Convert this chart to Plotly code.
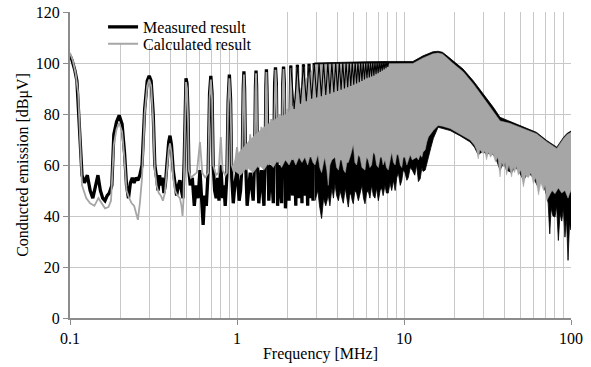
import plotly.graph_objects as go

# ---------------- Low-frequency part: individual harmonics (MHz, dBuV) ----------------
meas_f = [0.100, 0.103, 0.107, 0.110, 0.118, 0.122, 0.127, 0.132, 0.137, 0.142, 0.147, 0.152, 0.157,
          0.162, 0.167, 0.172, 0.178, 0.183, 0.190, 0.197, 0.205, 0.212, 0.218, 0.224, 0.230, 0.236,
          0.242, 0.248, 0.255, 0.262, 0.270, 0.280, 0.290, 0.298, 0.306, 0.315, 0.322, 0.330, 0.337,
          0.344, 0.350, 0.357, 0.365, 0.372, 0.380, 0.390, 0.397, 0.405, 0.415, 0.425, 0.435, 0.445,
          0.455, 0.465, 0.475, 0.483, 0.489, 0.495, 0.502, 0.509, 0.515, 0.525, 0.540, 0.555, 0.570,
          0.585, 0.600, 0.615, 0.627, 0.640, 0.655, 0.672, 0.685, 0.697, 0.709, 0.720, 0.735, 0.750,
          0.765, 0.780, 0.800, 0.820, 0.835, 0.850, 0.870, 0.885, 0.900, 0.915, 0.930, 0.950, 0.970,
          1.000, 1.030, 1.050, 1.075, 1.090, 1.100, 1.110, 1.125, 1.150, 1.200, 1.250, 1.275, 1.290,
          1.300, 1.310, 1.325, 1.350, 1.400, 1.450, 1.475, 1.490, 1.500, 1.510, 1.525, 1.550, 1.600,
          1.650, 1.680, 1.700, 1.720, 1.750, 1.800, 1.850, 1.880, 1.900, 1.920, 1.950, 2.000, 2.050,
          2.100, 2.150, 2.200, 2.250, 2.300, 2.350, 2.400, 2.450, 2.500, 2.550, 2.600, 2.650, 2.700,
          2.750, 2.800, 2.850, 2.900]
meas_db = [103.0, 101.0, 97.0, 93.0, 56.0, 53.0, 56.0, 50.0, 47.0, 52.0, 56.0, 50.0, 47.0,
           46.0, 48.0, 49.0, 52.0, 72.0, 77.0, 79.5, 76.0, 65.0, 52.0, 47.0, 53.0, 55.0,
           53.0, 55.0, 54.0, 56.0, 60.0, 82.0, 93.0, 95.0, 93.0, 80.0, 60.0, 55.0, 50.0,
           56.0, 52.0, 55.0, 49.0, 52.0, 60.0, 69.0, 71.5, 68.0, 58.0, 52.0, 48.0, 52.0,
           54.0, 50.0, 47.0, 62.0, 88.0, 94.0, 92.0, 80.0, 58.0, 52.0, 55.0, 44.0, 52.0,
           47.0, 58.0, 45.0, 36.5, 48.0, 44.0, 58.0, 88.0, 95.0, 88.0, 60.0, 50.0, 47.0,
           55.0, 46.0, 60.0, 47.0, 52.0, 44.0, 56.0, 85.0, 95.5, 86.0, 55.0, 45.0, 52.0,
           58.0, 46.0, 50.0, 62.0, 90.0, 96.7, 90.0, 62.0, 44.0, 57.0, 46.0, 62.0, 91.0,
           97.0, 91.0, 62.0, 45.0, 58.0, 44.0, 64.0, 91.0, 97.5, 91.0, 62.0, 46.0, 60.0,
           45.0, 92.0, 98.3, 92.0, 44.0, 60.0, 45.0, 92.0, 98.6, 92.0, 43.0, 62.0, 46.0,
           99.0, 48.0, 64.0, 44.0, 99.3, 47.0, 65.0, 45.0, 99.5, 48.0, 66.0, 44.0, 99.7,
           47.0, 67.0, 46.0, 100.0]

calc_f = [0.100, 0.104, 0.108, 0.112, 0.118, 0.125, 0.132, 0.140, 0.148, 0.155, 0.162, 0.170, 0.176,
          0.183, 0.190, 0.197, 0.205, 0.212, 0.218, 0.226, 0.234, 0.242, 0.250, 0.255, 0.262, 0.270,
          0.280, 0.290, 0.298, 0.306, 0.315, 0.322, 0.330, 0.340, 0.350, 0.360, 0.370, 0.380, 0.390,
          0.397, 0.405, 0.415, 0.425, 0.440, 0.455, 0.465, 0.472, 0.478, 0.483, 0.489, 0.495, 0.502,
          0.509, 0.515, 0.530, 0.550, 0.575, 0.600, 0.620, 0.645, 0.672, 0.685, 0.697, 0.709, 0.720,
          0.750, 0.775, 0.800, 0.820, 0.850, 0.870, 0.885, 0.900, 0.915, 0.930, 0.960, 1.000, 1.040,
          1.075, 1.090, 1.100, 1.110, 1.125, 1.150, 1.200, 1.250, 1.275, 1.290, 1.300, 1.310, 1.325,
          1.350, 1.400, 1.450, 1.475, 1.490, 1.500, 1.510, 1.525, 1.550, 1.600, 1.650, 1.680, 1.700,
          1.720, 1.750, 1.800, 1.850, 1.880, 1.900, 1.920, 1.950, 2.000, 2.050, 2.100, 2.150, 2.200,
          2.250, 2.300, 2.350, 2.400, 2.450, 2.500, 2.550, 2.600, 2.650, 2.700, 2.750, 2.800, 2.850,
          2.900]
calc_db = [104.0, 101.0, 96.0, 88.0, 52.0, 47.0, 45.0, 44.0, 47.0, 45.0, 43.0, 43.5, 46.0,
           68.0, 74.0, 76.5, 73.0, 62.0, 50.0, 47.0, 45.0, 44.0, 41.0, 38.5, 45.0, 55.0,
           80.0, 91.0, 93.5, 91.0, 77.0, 58.0, 52.0, 49.0, 48.0, 46.0, 49.0, 58.0, 66.0,
           68.5, 65.0, 55.0, 50.0, 48.0, 47.0, 44.0, 40.0, 46.0, 60.0, 86.0, 92.5, 90.0,
           78.0, 58.0, 55.0, 56.0, 57.0, 69.0, 57.0, 55.0, 57.0, 86.0, 93.5, 86.0, 60.0,
           56.0, 57.0, 71.0, 58.0, 56.0, 57.0, 84.0, 94.0, 84.0, 60.0, 57.0, 67.0, 58.0,
           62.0, 88.0, 95.5, 88.0, 62.0, 58.0, 72.0, 58.0, 62.0, 89.0, 96.0, 89.0, 62.0,
           59.0, 75.0, 59.0, 64.0, 89.0, 96.5, 89.0, 63.0, 60.0, 78.0, 60.0, 90.0, 97.3,
           90.0, 61.0, 80.0, 61.0, 90.0, 97.6, 90.0, 62.0, 82.0, 62.0, 98.0, 62.0, 83.0,
           62.0, 98.3, 63.0, 84.0, 62.0, 98.5, 63.0, 85.0, 62.0, 98.7, 63.0, 85.5, 62.0,
           99.0]

# ---------------- Dense part: envelopes of the harmonic band ----------------
meas_top_f = [2.9, 4.0, 6.0, 8.0, 10.0, 11.3, 13.0, 14.9, 16.0, 17.0, 18.1, 19.6, 22.6, 26.0, 30.0,
              34.3, 37.6, 43.3, 51.9, 62.1, 71.6, 82.2, 90.3, 95.0, 100.0]
meas_top = [100.0, 100.3, 100.5, 100.6, 100.5, 100.6, 102.8, 104.4, 104.6, 104.2, 102.8, 100.8, 97.6,
            93.0, 87.8, 82.6, 78.7, 77.1, 74.8, 72.8, 69.6, 67.0, 70.9, 72.5, 73.3]

meas_bot_f = [2.93, 3.05, 3.12, 3.21, 3.30, 3.40, 3.52, 3.60, 3.70, 3.78, 3.86, 3.95, 4.05, 4.14, 4.23,
              4.33, 4.45, 4.55, 4.64, 4.72, 4.80, 4.90, 4.97, 5.08, 5.20, 5.33, 5.45, 5.60, 5.72, 5.84,
              5.97, 6.10, 6.25, 6.40, 6.55, 6.70, 6.85, 7.02, 7.20, 7.35, 7.50, 7.69, 7.85, 8.05, 8.25,
              8.44, 8.65, 8.85, 9.05, 9.25, 9.50, 9.70, 9.90, 10.14, 10.4, 10.6, 10.9, 11.2, 11.6, 11.9,
              12.2, 12.5, 12.8, 13.0, 13.4, 13.7, 14.0, 14.5, 15.0, 16.0, 18.9, 21.6, 24.9, 26.4, 27.8,
              29.8, 31.2, 33.0, 35.3, 37.6, 39.6, 41.1, 44.1, 46.0, 48.4, 51.9, 55.5, 59.5, 63.9, 66.0,
              68.5, 71.6, 73.0, 74.6, 76.0, 78.0, 80.2, 82.0, 84.0, 86.0, 88.0, 90.0, 92.0, 94.0, 96.0,
              98.0, 100.0]
meas_bot = [46.0, 50.0, 44.0, 39.0, 47.0, 44.0, 48.0, 44.0, 51.0, 47.0, 52.6, 48.0, 46.0, 50.0, 48.0,
            45.0, 51.0, 47.0, 43.5, 48.0, 49.0, 46.0, 44.8, 50.0, 49.0, 46.0, 48.0, 52.0, 47.0, 44.8,
            49.0, 50.0, 47.0, 52.0, 48.0, 47.0, 51.0, 46.0, 50.0, 51.0, 48.0, 52.0, 49.0, 49.0, 53.0,
            50.0, 54.0, 50.0, 55.0, 57.0, 52.0, 54.0, 58.0, 57.0, 54.0, 55.0, 59.0, 58.0, 56.0, 60.0,
            53.5, 54.6, 59.0, 57.5, 58.0, 61.0, 63.0, 67.0, 70.5, 74.8, 73.5, 71.5, 69.0, 67.0, 64.0,
            65.5, 64.0, 65.0, 63.0, 58.0, 61.0, 58.0, 57.0, 59.0, 58.0, 54.0, 57.0, 55.0, 51.0, 54.0,
            52.0, 48.0, 45.0, 33.0, 43.0, 40.0, 39.6, 44.0, 30.4, 41.0, 38.0, 43.0, 31.7, 39.0, 22.6,
            37.0, 34.5]

calc_top_f = [0.95, 1.0, 1.2, 1.4, 1.6, 1.8, 2.0, 2.2, 2.4, 2.6, 2.8, 2.9, 4.0, 6.0, 8.0, 10.0,
              11.3, 13.0, 14.9, 16.0, 17.0, 18.1, 19.6, 22.6, 26.0, 30.0, 34.3, 37.6, 43.3, 51.9, 62.1,
              71.6, 82.2, 90.3, 95.0, 100.0]
calc_top = [60.0, 64.0, 70.0, 74.0, 77.0, 79.0, 80.0, 84.0, 90.0, 94.0, 97.0, 99.4, 99.6, 99.7,
            99.8, 99.7, 99.8, 102.0, 103.6, 103.9, 103.5, 102.0, 99.9, 96.6, 91.8, 86.2, 80.8, 77.3,
            76.3, 74.2, 72.3, 69.1, 66.5, 70.4, 72.0, 72.8]

calc_bot_f = [0.95, 1.05, 1.15, 1.25, 1.35, 1.45, 1.55, 1.65, 1.75, 1.85, 1.95, 2.05, 2.15, 2.25, 2.35,
              2.45, 2.55, 2.65, 2.75, 2.85, 2.93, 3.05, 3.13, 3.21, 3.35, 3.45, 3.52, 3.60, 3.70, 3.86,
              3.95, 4.05, 4.15, 4.23, 4.35, 4.45, 4.55, 4.64, 4.80, 4.97, 5.08, 5.20, 5.33, 5.45, 5.60,
              5.84, 5.97, 6.10, 6.25, 6.40, 6.55, 6.70, 6.85, 7.02, 7.20, 7.35, 7.50, 7.69, 7.85, 8.05,
              8.25, 8.44, 8.65, 8.85, 9.05, 9.25, 9.50, 9.70, 9.90, 10.14, 10.4, 10.6, 10.9, 11.2, 11.6,
              11.9, 12.2, 12.5, 12.8, 13.0, 13.4, 13.7, 14.0, 14.5, 15.0, 16.0, 17.0, 18.9, 21.6, 24.9,
              26.4, 27.2, 27.8, 28.5, 29.8, 30.5, 31.2, 32.0, 33.0, 34.0, 35.3, 36.5, 37.6, 38.5, 39.6,
              40.3, 41.1, 42.5, 44.1, 45.0, 46.0, 47.0, 48.4, 50.0, 51.9, 53.5, 55.5, 57.5, 59.5, 61.5,
              63.9, 66.0, 68.5, 70.0, 71.6, 74.6, 77.0, 80.2, 84.0, 88.0, 92.0, 96.0, 98.0, 100.0]
calc_bot = [58.0, 56.0, 59.0, 57.0, 60.0, 58.0, 61.0, 59.0, 62.0, 59.0, 62.0, 60.0, 63.0, 60.0, 63.0,
            61.0, 63.0, 60.0, 64.0, 61.0, 60.0, 64.0, 59.0, 57.0, 63.0, 58.0, 52.0, 60.0, 62.0, 63.0,
            59.0, 58.0, 62.0, 62.0, 58.0, 57.0, 61.0, 61.0, 64.0, 68.0, 61.0, 60.0, 64.0, 63.0, 59.0,
            58.0, 63.0, 62.0, 59.0, 60.0, 65.0, 64.0, 60.0, 59.0, 63.0, 63.0, 60.0, 62.0, 59.0, 58.0,
            62.0, 65.0, 61.0, 60.0, 64.0, 64.0, 60.0, 59.0, 63.0, 63.0, 60.0, 61.0, 64.0, 62.0, 62.5,
            63.0, 62.0, 64.0, 63.0, 65.0, 66.0, 69.0, 71.0, 72.5, 73.6, 75.5, 75.2, 74.3, 72.3, 69.8,
            67.8, 66.0, 62.4, 66.0, 64.4, 65.5, 62.0, 65.0, 63.0, 64.5, 61.2, 63.0, 55.3, 61.0, 59.2,
            61.0, 56.0, 60.0, 55.3, 59.0, 57.0, 59.5, 56.0, 58.0, 51.4, 56.0, 55.0, 57.0, 52.7, 55.0,
            48.2, 53.0, 50.0, 52.0, 46.1, 48.0, 50.0, 48.7, 51.0, 49.0, 50.0, 47.0, 48.7, 50.0]

# measured odd-harmonic peaks standing above the calculated band (2-8 MHz)
strip_f = [2.1, 2.2, 2.3, 2.4, 2.5, 2.6, 2.7, 2.8,
           2.9, 3.0, 3.1, 3.2, 3.3, 3.4, 3.5, 3.6, 3.7, 3.8, 3.9, 4.0, 4.1, 4.2, 4.3, 4.4, 4.5, 4.6,
           4.7, 4.8, 4.9, 5.0, 5.1, 5.2, 5.3, 5.4, 5.5, 5.6, 5.7, 5.8, 5.9, 6.0, 6.1, 6.2, 6.3, 6.4,
           6.5, 6.6, 6.7, 6.8, 6.9, 7.0, 7.1, 7.2, 7.3, 7.4, 7.5, 7.6, 7.7, 7.8, 7.9, 8.0, 8.1]
strip_db = [99.0, 82.0, 99.3, 84.0, 99.5, 85.0, 99.7, 86.0,
            100.0, 86.5, 100.0, 87.0, 100.0, 87.5, 100.1, 88.0, 100.1, 88.5, 100.1, 89.0, 100.2, 89.5,
            100.2, 90.0, 100.2, 90.5, 100.2, 91.0, 100.3, 91.5, 100.3, 92.0, 100.3, 92.5, 100.3, 93.0,
            100.3, 93.5, 100.4, 94.0, 100.4, 94.3, 100.4, 94.7, 100.4, 95.0, 100.4, 95.6, 100.4, 96.0,
            100.5, 96.5, 100.5, 97.0, 100.5, 97.5, 100.5, 98.0, 100.5, 98.5, 100.5]

BLACK = "#000000"
GRAY = "#a6a6a6"
FONT = "Liberation Serif, Times New Roman, serif"
TXT = dict(family=FONT, size=16, color="black")

fig = go.Figure()

# measured band (black)
fig.add_trace(go.Scatter(
    x=meas_top_f + meas_bot_f[::-1], y=meas_top + meas_bot[::-1],
    mode="lines", fill="toself", fillcolor=BLACK, line=dict(color=BLACK, width=0.8),
    showlegend=False, hoverinfo="skip"))
# measured low-frequency trace
fig.add_trace(go.Scatter(
    x=meas_f, y=meas_db, mode="lines", name="Measured result", legend="legend",
    line=dict(color=BLACK, width=3.3)))
# calculated band (gray)
fig.add_trace(go.Scatter(
    x=calc_top_f + calc_bot_f[::-1], y=calc_top + calc_bot[::-1],
    mode="lines", fill="toself", fillcolor=GRAY, line=dict(color=GRAY, width=0.5),
    showlegend=False, hoverinfo="skip"))
# calculated low-frequency trace
fig.add_trace(go.Scatter(
    x=calc_f, y=calc_db, mode="lines", name="Calculated result", legend="legend2",
    line=dict(color=GRAY, width=1.8)))
# measured peaks above the band
fig.add_trace(go.Scatter(
    x=strip_f, y=strip_db, mode="lines", line=dict(color=BLACK, width=1.1),
    showlegend=False, hoverinfo="skip"))

minor_vals = [0.2, 0.3, 0.4, 0.5, 0.6, 0.7, 0.8, 0.9,
              2, 3, 4, 5, 6, 7, 8, 9,
              20, 30, 40, 50, 60, 70, 80, 90]
x_ticks = [0.1, 1, 10, 100]
x_ticktext = ["0.1", "1", "10", "100"]

GRID = "#c8c8c8"
AXIS = "#8c8c8c"

leg_common = dict(xanchor="left", yanchor="middle", borderwidth=0, font=TXT, itemwidth=30)

fig.update_layout(
    width=591, height=367,
    margin=dict(l=70, r=20, t=11, b=49),
    paper_bgcolor="white", plot_bgcolor="white",
    font=TXT,
    showlegend=True,
    legend=dict(x=0.066, y=0.948, bgcolor="white", **leg_common),
    legend2=dict(x=0.066, y=0.893, bgcolor="rgba(255,255,255,0)", **leg_common),
    xaxis=dict(
        type="log", range=[-1, 2], automargin=False,
        tickvals=x_ticks, ticktext=x_ticktext,
        showgrid=True, gridcolor=GRID, gridwidth=1,
        minor=dict(tickvals=minor_vals, showgrid=True, gridcolor=GRID, gridwidth=1, ticklen=0),
        showline=True, linecolor=AXIS, linewidth=2,
        ticks="outside", ticklen=5, tickcolor=AXIS, tickwidth=1,
        tickfont=TXT,
        title=dict(text="Frequency [MHz]", font=TXT, standoff=2),
        zeroline=False),
    yaxis=dict(
        range=[0, 120], tick0=0, dtick=20, automargin=False,
        showgrid=True, gridcolor=GRID, gridwidth=1,
        showline=True, linecolor=AXIS, linewidth=2,
        ticks="outside", ticklen=5, tickcolor=AXIS, tickwidth=1,
        tickfont=TXT,
        title=dict(text="Conducted emission [dBμV]", font=TXT, standoff=3),
        zeroline=False),
)

fig.write_html("out.html")
